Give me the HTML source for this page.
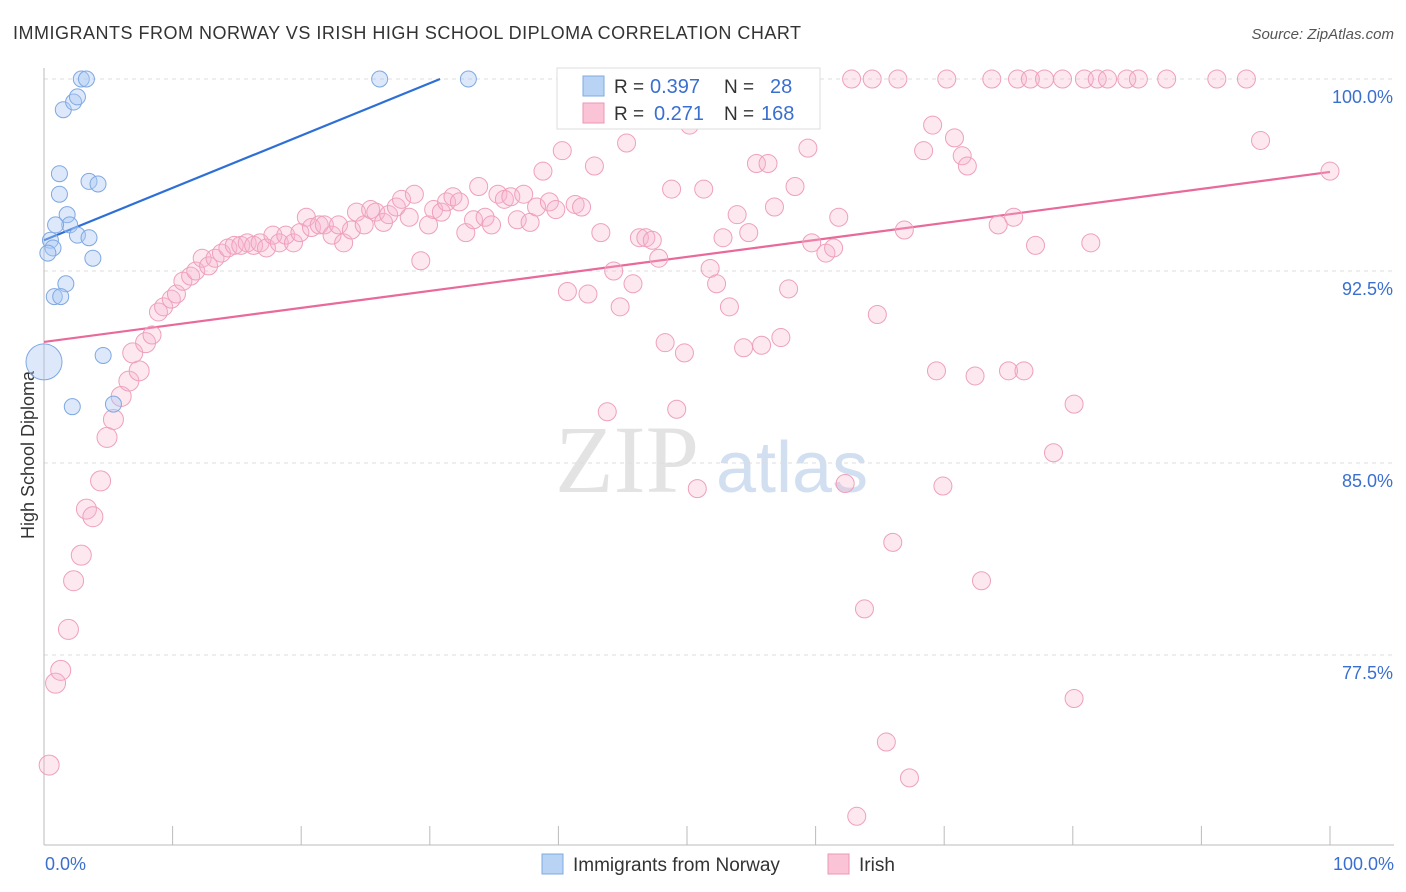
<!DOCTYPE html>
<html><head><meta charset="utf-8"><style>
body{margin:0;background:#fff;font-family:"Liberation Sans",sans-serif}
svg{display:block}
</style></head><body>
<svg id="chart" width="1406" height="892">
<text x="13" y="39" font-size="18" fill="#333" textLength="788">IMMIGRANTS FROM NORWAY VS IRISH HIGH SCHOOL DIPLOMA CORRELATION CHART</text>
<text x="1394" y="39" font-size="15" fill="#555" font-style="italic" text-anchor="end">Source: ZipAtlas.com</text>
<text x="0" y="0" transform="translate(34,455) rotate(-90)" font-size="18" fill="#333" text-anchor="middle">High School Diploma</text>
<g><text x="555" y="492" font-size="96" fill="#ddd" font-family="Liberation Serif,serif" opacity="0.8">ZIP</text><text x="716" y="492" font-size="72" fill="#c8d8ee" opacity="0.8">atlas</text></g>
<g id="grid"></g><g id="axes"></g><g id="trend"></g><g id="pts"></g>
<g>
<rect x="557" y="68" width="263" height="61" fill="#fff" stroke="#ddd"/>
<rect x="583" y="76" width="21" height="20" fill="#b9d3f5" stroke="#7fa9e0"/>
<rect x="583" y="103" width="21" height="20" fill="#fbc4d6" stroke="#eb97b3"/>
<text x="614" y="93" font-size="19" fill="#333">R =</text>
<text x="650" y="93" font-size="20" fill="#3a6fd0">0.397</text>
<text x="724" y="93" font-size="19" fill="#333">N =</text>
<text x="770" y="93" font-size="20" fill="#3a6fd0">28</text>
<text x="614" y="120" font-size="19" fill="#333">R =</text>
<text x="654" y="120" font-size="20" fill="#3a6fd0">0.271</text>
<text x="724" y="120" font-size="19" fill="#333">N =</text>
<text x="761" y="120" font-size="20" fill="#3a6fd0">168</text>
</g>
<g>
<rect x="542" y="854" width="21" height="20" fill="#b9d3f5" stroke="#7fa9e0"/>
<text x="573" y="871" font-size="19" fill="#333">Immigrants from Norway</text>
<rect x="828" y="854" width="21" height="20" fill="#fbc4d6" stroke="#eb97b3"/>
<text x="859" y="871" font-size="19" fill="#333">Irish</text>
</g>
</svg>
<script>
const yTicks=[100,92.5,85,77.5];
const yTickLabels=["100.0%","92.5%","85.0%","77.5%"];
const xTickLabels=["0.0%","100.0%"];
const blueX=[0,2.9,3.3,26.1,33.0,1.5,2.3,2.6,1.2,1.2,3.5,4.2,1.8,2.0,0.9,2.6,3.5,0.5,0.7,0.3,3.8,1.7,0.8,1.3,4.6,2.2,5.4];
const blueY=[88.95,100,100,100,100,98.8,99.1,99.3,96.3,95.5,96.0,95.9,94.7,94.3,94.3,93.9,93.8,93.7,93.4,93.2,93.0,92.0,91.5,91.5,89.2,87.2,87.3];
const pinkX=[58.9,62.8,64.4,66.4,70.2,73.7,75.7,76.7,77.8,79.2,80.9,81.9,82.7,84.2,85.1,87.3,91.2,93.5,
0.4,0.9,1.3,1.9,2.3,2.9,3.3,3.8,4.4,4.9,5.4,6.0,6.6,7.4,6.9,7.9,8.4,8.9,9.3,9.9,10.3,10.8,11.4,11.8,12.3,12.8,13.3,13.8,14.3,14.8,15.3,15.8,16.3,16.8,17.3,17.8,18.3,18.8,19.4,19.9,20.4,20.8,21.4,21.8,22.4,22.9,23.3,23.9,24.3,24.9,25.4,25.8,26.4,26.8,27.4,27.8,28.4,28.8,29.3,29.9,30.3,30.9,31.3,31.8,32.3,32.8,33.4,33.8,34.3,34.8,35.3,35.8,36.3,36.8,37.3,37.8,38.3,38.8,39.3,39.8,40.3,40.7,41.3,41.8,42.3,42.8,43.3,43.8,44.3,44.8,45.3,45.8,46.3,46.8,47.3,47.8,48.3,48.8,49.2,49.8,50.2,50.8,51.3,51.8,52.3,52.8,53.3,53.9,54.4,54.8,55.4,55.8,56.3,56.8,57.3,57.9,58.4,59.4,59.7,60.8,61.4,61.8,62.3,63.8,63.2,64.8,65.5,66.0,66.9,67.3,68.4,69.1,69.4,69.9,70.8,71.4,71.8,72.4,72.9,74.2,75.0,75.4,76.2,77.1,78.5,80.1,80.1,81.4,94.6,100];
const pinkY=[100,100,100,100,100,100,100,100,100,100,100,100,100,100,100,100,100,100,
73.2,76.4,76.9,78.5,80.4,81.4,83.2,82.9,84.3,86.0,86.7,87.6,88.2,88.6,89.3,89.7,90.0,90.9,91.1,91.4,91.6,92.1,92.3,92.5,93.0,92.7,93.0,93.2,93.4,93.5,93.5,93.6,93.5,93.6,93.4,93.9,93.6,93.9,93.6,94.0,94.6,94.2,94.3,94.3,93.9,94.3,93.6,94.1,94.8,94.3,94.9,94.8,94.4,94.7,95.0,95.3,94.6,95.5,92.9,94.3,94.9,94.8,95.2,95.4,95.2,94.0,94.5,95.8,94.6,94.3,95.5,95.3,95.4,94.5,95.5,94.4,95.0,96.4,95.2,94.9,97.2,91.7,95.1,95.0,91.6,96.6,94.0,87.0,92.5,91.1,97.5,92.0,93.8,93.8,93.7,93.0,89.7,95.7,87.1,89.3,98.2,84.0,95.7,92.6,92.0,93.8,91.1,94.7,89.5,94.0,96.7,89.6,96.7,95.0,89.9,91.8,95.8,97.3,93.6,93.2,93.4,94.6,84.2,79.3,71.2,90.8,74.1,81.9,94.1,72.7,97.2,98.2,88.6,84.1,97.7,97.0,96.6,88.4,80.4,94.3,88.6,94.6,88.6,93.5,85.4,87.3,75.8,93.6,97.6,96.4];
const blueTrend=[[0,93.7],[30.8,100]];
const pinkTrend=[[0,89.73],[100,96.37]];
const NS="http://www.w3.org/2000/svg";
const sx=v=>44+v*12.86, sy=v=>79+(100-v)*25.6;
function mk(parent,tag,attrs){const e=document.createElementNS(NS,tag);for(const k in attrs)e.setAttribute(k,attrs[k]);document.getElementById(parent).appendChild(e);return e;}
yTicks.forEach((t,i)=>{
 const l=mk('grid','line',{x1:44,x2:1394,y1:sy(t),y2:sy(t),stroke:'#ddd','stroke-dasharray':'4,4'});
 
 
 const tx=mk('grid','text',{x:1393,y:sy(t)+24,'font-size':18,fill:'#3a6fd0','text-anchor':'end'});tx.textContent=yTickLabels[i];
 
 
});
const ax=mk('axes','line',{x1:44,x2:44,y1:68,y2:845,stroke:'#bbb'});


const bx=mk('axes','line',{x1:44,x2:1394,y1:845,y2:845,stroke:'#bbb'});


for(let i=0;i<=10;i++){const t=mk('axes','line',{x1:sx(i*10),x2:sx(i*10),y1:826,y2:845,stroke:'#bbb'});
 
 }
[[0,'start',45],[100,'end',1394]].forEach((p,i)=>{const t=mk('axes','text',{x:p[2],y:870,'font-size':18,fill:'#3a6fd0','text-anchor':p[1]});t.textContent=xTickLabels[i];
 
 });
pinkX.forEach((x,i)=>{const c=mk('pts','circle',{cx:sx(x),cy:sy(pinkY[i]),r:(x<10&&pinkY[i]<90)?10:9,fill:'rgba(248,180,204,0.3)',stroke:'#eea0bb','stroke-width':1});
 
 });
blueX.forEach((x,i)=>{const c=mk('pts','circle',{cx:sx(x),cy:sy(blueY[i]),r:i==0?18:8,fill:'rgba(170,200,245,0.4)',stroke:'#7ea8e2','stroke-width':1});
 
 });
const bt=mk('trend','line',{x1:sx(blueTrend[0][0]),y1:sy(blueTrend[0][1]),x2:sx(blueTrend[1][0]),y2:sy(blueTrend[1][1]),stroke:'#2e6fd6','stroke-width':2.2});


const pt=mk('trend','line',{x1:sx(pinkTrend[0][0]),y1:sy(pinkTrend[0][1]),x2:sx(pinkTrend[1][0]),y2:sy(pinkTrend[1][1]),stroke:'#e8699a','stroke-width':2.2});


</script>
</body></html>
